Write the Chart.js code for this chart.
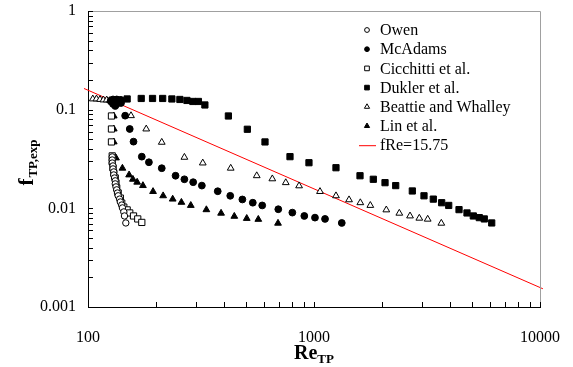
<!DOCTYPE html>
<html><head><meta charset="utf-8">
<script src="https://cdn.jsdelivr.net/npm/chart.js@4/dist/chart.umd.min.js"></script>
<style>html,body{margin:0;padding:0;background:#fff}#wrap{width:573px;height:367px;position:relative}</style>
</head><body><div id="wrap"><canvas id="c" width="573" height="367"></canvas></div>
<script>
// ---- data ----
const owenRe = [128,128,128,129,129,130,130,131,132,132,133,134,135,136,138,139,141,142,144,145,147];
const owenF  = [0.0332,0.0309,0.0288,0.0269,0.0251,0.0234,0.0218,0.0203,0.0190,0.0177,0.0165,0.0154,0.0143,0.0134,0.0124,0.0116,0.0108,0.0101,0.0092,0.00837,0.00711];

const mcadamsRe = [126,129,132,134,137,140,129,134,140,132,146,153,159,173,186,212,244,267,292,319,375,426,482,536,590,695,802,906,1010,1119,1327];
const mcadamsF  = [0.1225,0.1269,0.1225,0.1269,0.1225,0.1254,0.1142,0.1142,0.1169,0.1090,0.0869,0.0637,0.0474,0.0334,0.0293,0.0255,0.0214,0.0197,0.0184,0.0170,0.0149,0.0134,0.0123,0.0114,0.0107,0.00979,0.00905,0.00837,0.00805,0.00781,0.00711];

const cicchittiRe = [127,127,127,127,128,128,129,130,132,133,134,136,139,141,144,149,153,159,166,173];
const cicchittiF  = [0.1225,0.0863,0.0637,0.0471,0.0340,0.0295,0.0257,0.0228,0.0203,0.0181,0.0161,0.0143,0.0127,0.0113,0.0103,0.00964,0.00898,0.00837,0.00781,0.0072];

const duklerRe = [136,149,172,193,214,235,255,274,291,308,329,418,507,607,783,950,1251,1598,1830,2062,2299,2723,3067,3372,3673,3945,4382,4753,5069,5387,5669,6114];
const duklerF  = [0.1254,0.1284,0.1299,0.1299,0.1299,0.1284,0.1269,0.1240,0.1211,0.1211,0.1116,0.0863,0.0633,0.0471,0.0334,0.0290,0.0258,0.0214,0.0197,0.0182,0.0170,0.0150,0.0134,0.0124,0.0114,0.0107,0.0097,0.00898,0.00837,0.00805,0.00781,0.00711];

const beattieRe = [105,109,113,117,121,125,155,181,212,267,322,428,558,654,750,859,1063,1251,1429,1603,1775,2089,2385,2660,2924,3185,3659];
const beattieF  = [0.1284,0.1284,0.1269,0.1254,0.1254,0.1240,0.0869,0.0637,0.0467,0.0329,0.0288,0.0255,0.0214,0.0199,0.0182,0.0169,0.0148,0.0134,0.0122,0.0114,0.0107,0.00964,0.00892,0.00837,0.00794,0.00776,0.00706];

const linRe = [130,130,130,133,142,152,158,165,175,194,215,237,259,285,334,388,444,504,567,693];
const linF  = [0.0863,0.0637,0.0471,0.0324,0.0255,0.0218,0.0197,0.0184,0.0170,0.0148,0.0134,0.0124,0.0115,0.0107,0.00968,0.00892,0.0083,0.0079,0.00773,0.00706];

const fitRe = [96, 10300];      // fRe = 15.75
const fitF  = [0.164, 0.00153];

const seriesNames = ['Owen','McAdams','Cicchitti et al.','Dukler et al.','Beattie and Whalley','Lin et al.','fRe=15.75'];
const xTickValues = [100, 1000, 10000];
const xTickLabels = ['100','1000','10000'];
const yTickValues = [0.001, 0.01, 0.1, 1];
const yTickLabels = ['0.001','0.01','0.1','1'];

// ---- chart ----
const pts = (xs, ys) => xs.map((x, i) => ({x: x, y: ys[i]}));
const SERIF = "'Liberation Serif', 'Times New Roman', serif";

function mk(label, xs, ys, style, filled, r) {
  return {type: 'scatter', label: label, data: pts(xs, ys), pointStyle: style, pointRadius: r, pointHoverRadius: r,
    backgroundColor: filled ? '#000' : '#fff', borderColor: '#000', borderWidth: 1};
}

const datasets = [
  mk(seriesNames[0], owenRe, owenF, 'circle', false, 3.2),
  mk(seriesNames[1], mcadamsRe, mcadamsF, 'circle', true, 3.4),
  mk(seriesNames[2], cicchittiRe, cicchittiF, 'rect', false, 4.4),
  mk(seriesNames[3], duklerRe, duklerF, 'rect', true, 4.4),
  mk(seriesNames[4], beattieRe, beattieF, 'triangle', false, 3.9),
  mk(seriesNames[5], linRe, linF, 'triangle', true, 3.9),
  {type: 'line', label: seriesNames[6], data: pts(fitRe, fitF), borderColor: '#ff0000', borderWidth: 1,
   pointRadius: 0, fill: false, clip: false, tension: 0}
];

const legendMarks = [
  {style: 'circle', fill: '#fff', r: 2.4},
  {style: 'circle', fill: '#000', r: 2.4},
  {style: 'rect', fill: '#fff', r: 3.3},
  {style: 'rect', fill: '#000', r: 3.3},
  {style: 'triangle', fill: '#fff', r: 3},
  {style: 'triangle', fill: '#000', r: 3},
  {style: 'line'}
];

function drawMark(ctx, m, x, y) {
  if (m.style === 'line') {
    ctx.save(); ctx.strokeStyle = '#ff0000'; ctx.lineWidth = 1;
    ctx.beginPath(); ctx.moveTo(x - 8, y + 0.5); ctx.lineTo(x + 9, y + 0.5); ctx.stroke(); ctx.restore();
    return;
  }
  ctx.save();
  ctx.fillStyle = m.fill; ctx.strokeStyle = '#000'; ctx.lineWidth = 1;
  if (Chart.helpers && Chart.helpers.drawPoint) {
    Chart.helpers.drawPoint(ctx, {pointStyle: m.style, radius: m.r, rotation: 0, borderWidth: 1}, x, y);
  }
  ctx.restore();
}

const noPad = s => { s.paddingLeft = 0; s.paddingRight = 0; s.paddingTop = 0; s.paddingBottom = 0; };

const decorPlugin = {
  id: 'decor',
  afterDatasetsDraw(chart) {
    const ctx = chart.ctx, a = chart.chartArea, xs = chart.scales.x, ys = chart.scales.y;
    ctx.save();
    ctx.strokeStyle = '#a0a0a0'; ctx.lineWidth = 1;
    ctx.beginPath();
    ctx.moveTo(a.left, a.top + 0.5); ctx.lineTo(a.right + 0.5, a.top + 0.5); ctx.lineTo(a.right + 0.5, a.bottom);
    ctx.stroke();
    ctx.strokeStyle = '#000'; ctx.lineWidth = 1;
    ctx.beginPath();
    for (const d of [100, 1000]) for (let k = 1; k <= 10; k++) {
      const px = Math.round(xs.getPixelForValue(k * d)) + 0.5;
      ctx.moveTo(px, a.bottom); ctx.lineTo(px, a.bottom - 5);
    }
    for (const d of [0.001, 0.01, 0.1]) for (let k = 1; k <= 10; k++) {
      const py = Math.round(ys.getPixelForValue(k * d)) + 0.5;
      ctx.moveTo(a.left, py); ctx.lineTo(a.left + 5, py);
    }
    ctx.stroke();
    ctx.restore();
  },
  afterDraw(chart) {
    const ctx = chart.ctx;
    ctx.save();
    ctx.font = '16px ' + SERIF; ctx.fillStyle = '#000'; ctx.textBaseline = 'middle'; ctx.textAlign = 'left';
    const rowY = 30, step = 19.2;
    seriesNames.forEach((n, i) => {
      const y = rowY + i * step;
      drawMark(ctx, legendMarks[i], 367, y);
      ctx.fillStyle = '#000';
      ctx.fillText(n, 380, y + 1);
    });
    ctx.textBaseline = 'alphabetic';
    ctx.font = 'bold 20px ' + SERIF;
    const wRe = ctx.measureText('Re').width;
    ctx.font = 'bold 13px ' + SERIF;
    const wTP = ctx.measureText('TP').width;
    const x0 = 314 - (wRe + wTP) / 2;
    ctx.font = 'bold 20px ' + SERIF; ctx.fillText('Re', x0, 359);
    ctx.font = 'bold 13px ' + SERIF; ctx.fillText('TP', x0 + wRe, 363);
    ctx.save();
    ctx.translate(33, 163); ctx.rotate(-Math.PI / 2);
    ctx.font = 'bold 21px ' + SERIF;
    const wf = ctx.measureText('f').width;
    ctx.font = 'bold 13px ' + SERIF;
    const wsub = ctx.measureText('TP,exp').width;
    const s0 = -(wf + wsub) / 2;
    ctx.font = 'bold 21px ' + SERIF; ctx.fillText('f', s0, 0);
    ctx.font = 'bold 13px ' + SERIF; ctx.fillText('TP,exp', s0 + wf + 1, 4);
    ctx.restore();
    ctx.restore();
  }
};

new Chart(document.getElementById('c'), {
  data: {datasets: datasets},
  options: {
    responsive: false, animation: false, devicePixelRatio: 1,
    layout: {padding: {top: 11, right: 33, left: 0, bottom: 0}},
    plugins: {legend: {display: false}, tooltip: {enabled: false}},
    scales: {
      x: {
        type: 'logarithmic', position: 'bottom', min: 100, max: 10000,
        grid: {display: false, drawTicks: false},
        border: {display: true, color: '#000', width: 1},
        afterBuildTicks: s => { s.ticks = xTickValues.map(v => ({value: v})); },
        afterFit: s => { s.height = 60; noPad(s); },
        ticks: {autoSkip: false, maxRotation: 0, padding: 21, color: '#000',
          font: {family: SERIF, size: 16},
          callback: (v) => { const i = xTickValues.indexOf(v); return i >= 0 ? xTickLabels[i] : ''; }}
      },
      y: {
        type: 'logarithmic', position: 'left', min: 0.001, max: 1,
        grid: {display: false, drawTicks: false},
        border: {display: true, color: '#000', width: 1},
        afterBuildTicks: s => { s.ticks = yTickValues.map(v => ({value: v})); },
        afterFit: s => { s.width = 88; noPad(s); },
        ticks: {autoSkip: false, padding: 12, color: '#000',
          font: {family: SERIF, size: 16},
          callback: (v) => { const i = yTickValues.findIndex(t => Math.abs(t - v) / t < 1e-6); return i >= 0 ? yTickLabels[i] : ''; }}
      }
    }
  },
  plugins: [decorPlugin]
});
</script>
</body></html>
